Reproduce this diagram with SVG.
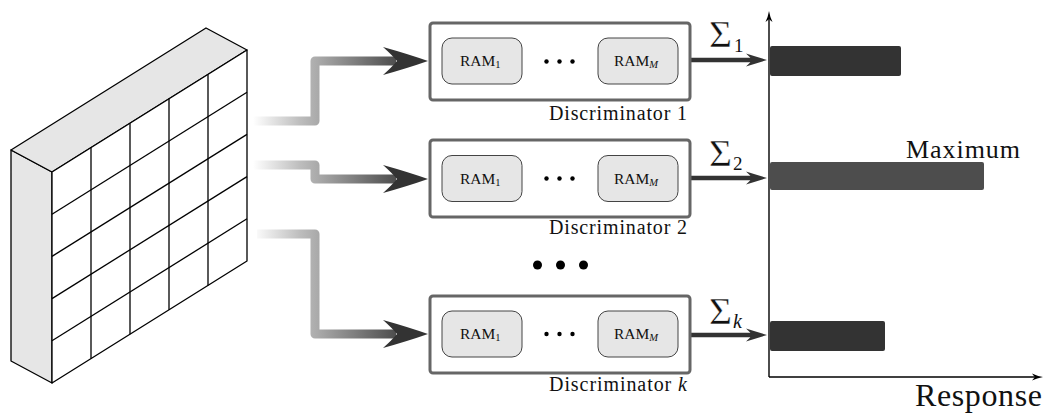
<svg xmlns="http://www.w3.org/2000/svg" width="1045" height="414" viewBox="0 0 1045 414">
<style>
.cube{stroke:#000;stroke-width:1.3;stroke-linejoin:round}
.side{fill:#e6e6e6}
.grid{stroke:#000;stroke-width:1.3;fill:none}
.disc{fill:#fff;stroke:#666;stroke-width:3}
.ram{fill:#e6e6e6;stroke:#444;stroke-width:1}
.t{font-family:"Liberation Serif","Times New Roman",serif;fill:#111}
.sig{font-family:"Liberation Serif","Times New Roman",serif;fill:#111;font-size:37px;stroke:#fff;stroke-width:0.4}
.conn{fill:none;stroke:url(#g);stroke-width:9;stroke-linejoin:round}
.head{fill:#333}
.out{stroke:#333;stroke-width:4.5;fill:none}
.axis{stroke:#000;stroke-width:1.4;fill:none}
</style>
<defs>
<linearGradient id="g" gradientUnits="userSpaceOnUse" x1="253" y1="0" x2="428" y2="0">
<stop offset="0" stop-color="#ffffff"/>
<stop offset="0.27" stop-color="#bdbdbd"/>
<stop offset="0.38" stop-color="#a8a8a8"/>
<stop offset="0.78" stop-color="#555555"/>
<stop offset="1" stop-color="#333333"/>
</linearGradient>
</defs>

<g id="image-cube">
<polygon class="cube side" points="11,150 52,172 52,383 11,361"/>
<polygon class="cube side" points="11,150 206,28 247,50 52,172"/>
<polygon class="cube" fill="#fff" points="52,172 247,50 247,261 52,383"/>
<g class="grid">
<line x1="91" y1="147.6" x2="91" y2="358.6"/>
<line x1="130" y1="123.2" x2="130" y2="334.2"/>
<line x1="169" y1="98.8" x2="169" y2="309.8"/>
<line x1="208" y1="74.4" x2="208" y2="285.4"/>
<line x1="52" y1="214.2" x2="247" y2="92.2"/>
<line x1="52" y1="256.4" x2="247" y2="134.4"/>
<line x1="52" y1="298.6" x2="247" y2="176.6"/>
<line x1="52" y1="340.8" x2="247" y2="218.8"/>
</g>
</g>

<g id="connectors">
<path class="conn" d="M253,121 H315 V61 H396"/>
<path class="head" d="M428,61 Q408,54 383,47 Q392,55 397,61 Q392,67 383,75 Q408,68 428,61 Z"/>
<path class="conn" d="M253,165 H315 V179 H396"/>
<path class="head" d="M428,179 Q408,172 383,165 Q392,173 397,179 Q392,185 383,193 Q408,186 428,179 Z"/>
<path class="conn" d="M257,234 H315 V334 H396"/>
<path class="head" d="M428,334 Q408,327 383,320 Q392,328 397,334 Q392,340 383,348 Q408,341 428,334 Z"/>
<line class="out" x1="690" y1="60" x2="752" y2="60"/>
<path class="head" d="M767,60 Q757,57 746,53.5 Q750,57 752,60 Q750,63 746,66.5 Q757,63 767,60 Z"/>
<line class="out" x1="690" y1="178" x2="752" y2="178"/>
<path class="head" d="M767,178 Q757,175 746,171.5 Q750,175 752,178 Q750,181 746,184.5 Q757,181 767,178 Z"/>
<line class="out" x1="690" y1="335" x2="752" y2="335"/>
<path class="head" d="M767,335 Q757,332 746,328.5 Q750,332 752,335 Q750,338 746,341.5 Q757,338 767,335 Z"/>
</g>

<g id="discriminator-1">
<rect class="disc" x="430" y="23" width="260" height="77" rx="3"/>
<rect class="ram" x="442" y="38" width="80" height="46" rx="10"/>
<rect class="ram" x="598" y="38" width="80" height="46" rx="10"/>
<text class="t" x="460" y="66" font-size="15.5">RAM<tspan font-size="10.5" dy="2">1</tspan></text>
<text class="t" x="614" y="66" font-size="15.5">RAM<tspan font-size="10.5" dy="2" font-style="italic">M</tspan></text>
<circle cx="546.5" cy="61.5" r="2.2" fill="#000"/>
<circle cx="559.5" cy="61.5" r="2.2" fill="#000"/>
<circle cx="572.5" cy="61.5" r="2.2" fill="#000"/>
<text class="t" x="687" y="120" font-size="20" text-anchor="end" textLength="138">Discriminator 1</text>
<text class="sig" x="709" y="46.5" textLength="23" lengthAdjust="spacingAndGlyphs">Σ</text>
<text class="t" x="734" y="51.5" font-size="19">1</text>
</g>

<g id="discriminator-2">
<rect class="disc" x="430" y="140" width="260" height="77" rx="3"/>
<rect class="ram" x="442" y="155.5" width="80" height="46" rx="10"/>
<rect class="ram" x="598" y="155.5" width="80" height="46" rx="10"/>
<text class="t" x="460" y="183.5" font-size="15.5">RAM<tspan font-size="10.5" dy="2">1</tspan></text>
<text class="t" x="614" y="183.5" font-size="15.5">RAM<tspan font-size="10.5" dy="2" font-style="italic">M</tspan></text>
<circle cx="546.5" cy="178.5" r="2.2" fill="#000"/>
<circle cx="559.5" cy="178.5" r="2.2" fill="#000"/>
<circle cx="572.5" cy="178.5" r="2.2" fill="#000"/>
<text class="t" x="687" y="234" font-size="20" text-anchor="end" textLength="138">Discriminator 2</text>
<text class="sig" x="709" y="165.5" textLength="23" lengthAdjust="spacingAndGlyphs">Σ</text>
<text class="t" x="733" y="169.5" font-size="19">2</text>
</g>

<g id="ellipsis">
<circle cx="537.5" cy="265" r="4.5" fill="#000"/>
<circle cx="560.5" cy="265" r="4.5" fill="#000"/>
<circle cx="583.5" cy="265" r="4.5" fill="#000"/>
</g>

<g id="discriminator-k">
<rect class="disc" x="430" y="296" width="260" height="77" rx="3"/>
<rect class="ram" x="442" y="311" width="80" height="46" rx="10"/>
<rect class="ram" x="598" y="311" width="80" height="46" rx="10"/>
<text class="t" x="460" y="339" font-size="15.5">RAM<tspan font-size="10.5" dy="2">1</tspan></text>
<text class="t" x="614" y="339" font-size="15.5">RAM<tspan font-size="10.5" dy="2" font-style="italic">M</tspan></text>
<circle cx="546.5" cy="334" r="2.2" fill="#000"/>
<circle cx="559.5" cy="334" r="2.2" fill="#000"/>
<circle cx="572.5" cy="334" r="2.2" fill="#000"/>
<text class="t" x="687" y="391" font-size="20" text-anchor="end" textLength="138">Discriminator <tspan font-style="italic">k</tspan></text>
<text class="sig" x="709" y="323.5" textLength="23" lengthAdjust="spacingAndGlyphs">Σ</text>
<text class="t" x="733" y="328" font-size="20" font-style="italic">k</text>
</g>

<g id="response-chart">
<line class="axis" x1="769" y1="377" x2="769" y2="18"/>
<path fill="#000" d="M769,11 Q770,17 772.5,22 Q770.5,20.5 769,19 Q767.5,20.5 765.5,22 Q768,17 769,11 Z"/>
<line class="axis" x1="769" y1="377" x2="1036" y2="377"/>
<path fill="#000" d="M1043,377 Q1037,378 1032,380.5 Q1033.5,378.5 1035,377 Q1033.5,375.5 1032,373.5 Q1037,376 1043,377 Z"/>
<rect x="770" y="46" width="131" height="30" rx="2" fill="#333"/>
<rect x="770" y="162" width="214" height="28" rx="2" fill="#4d4d4d"/>
<rect x="770" y="321" width="115" height="30" rx="2" fill="#333"/>
<text class="t" x="906" y="158" font-size="26" textLength="114">Maximum</text>
<text class="t" x="915" y="406" font-size="32" textLength="127">Response</text>
</g>
</svg>
